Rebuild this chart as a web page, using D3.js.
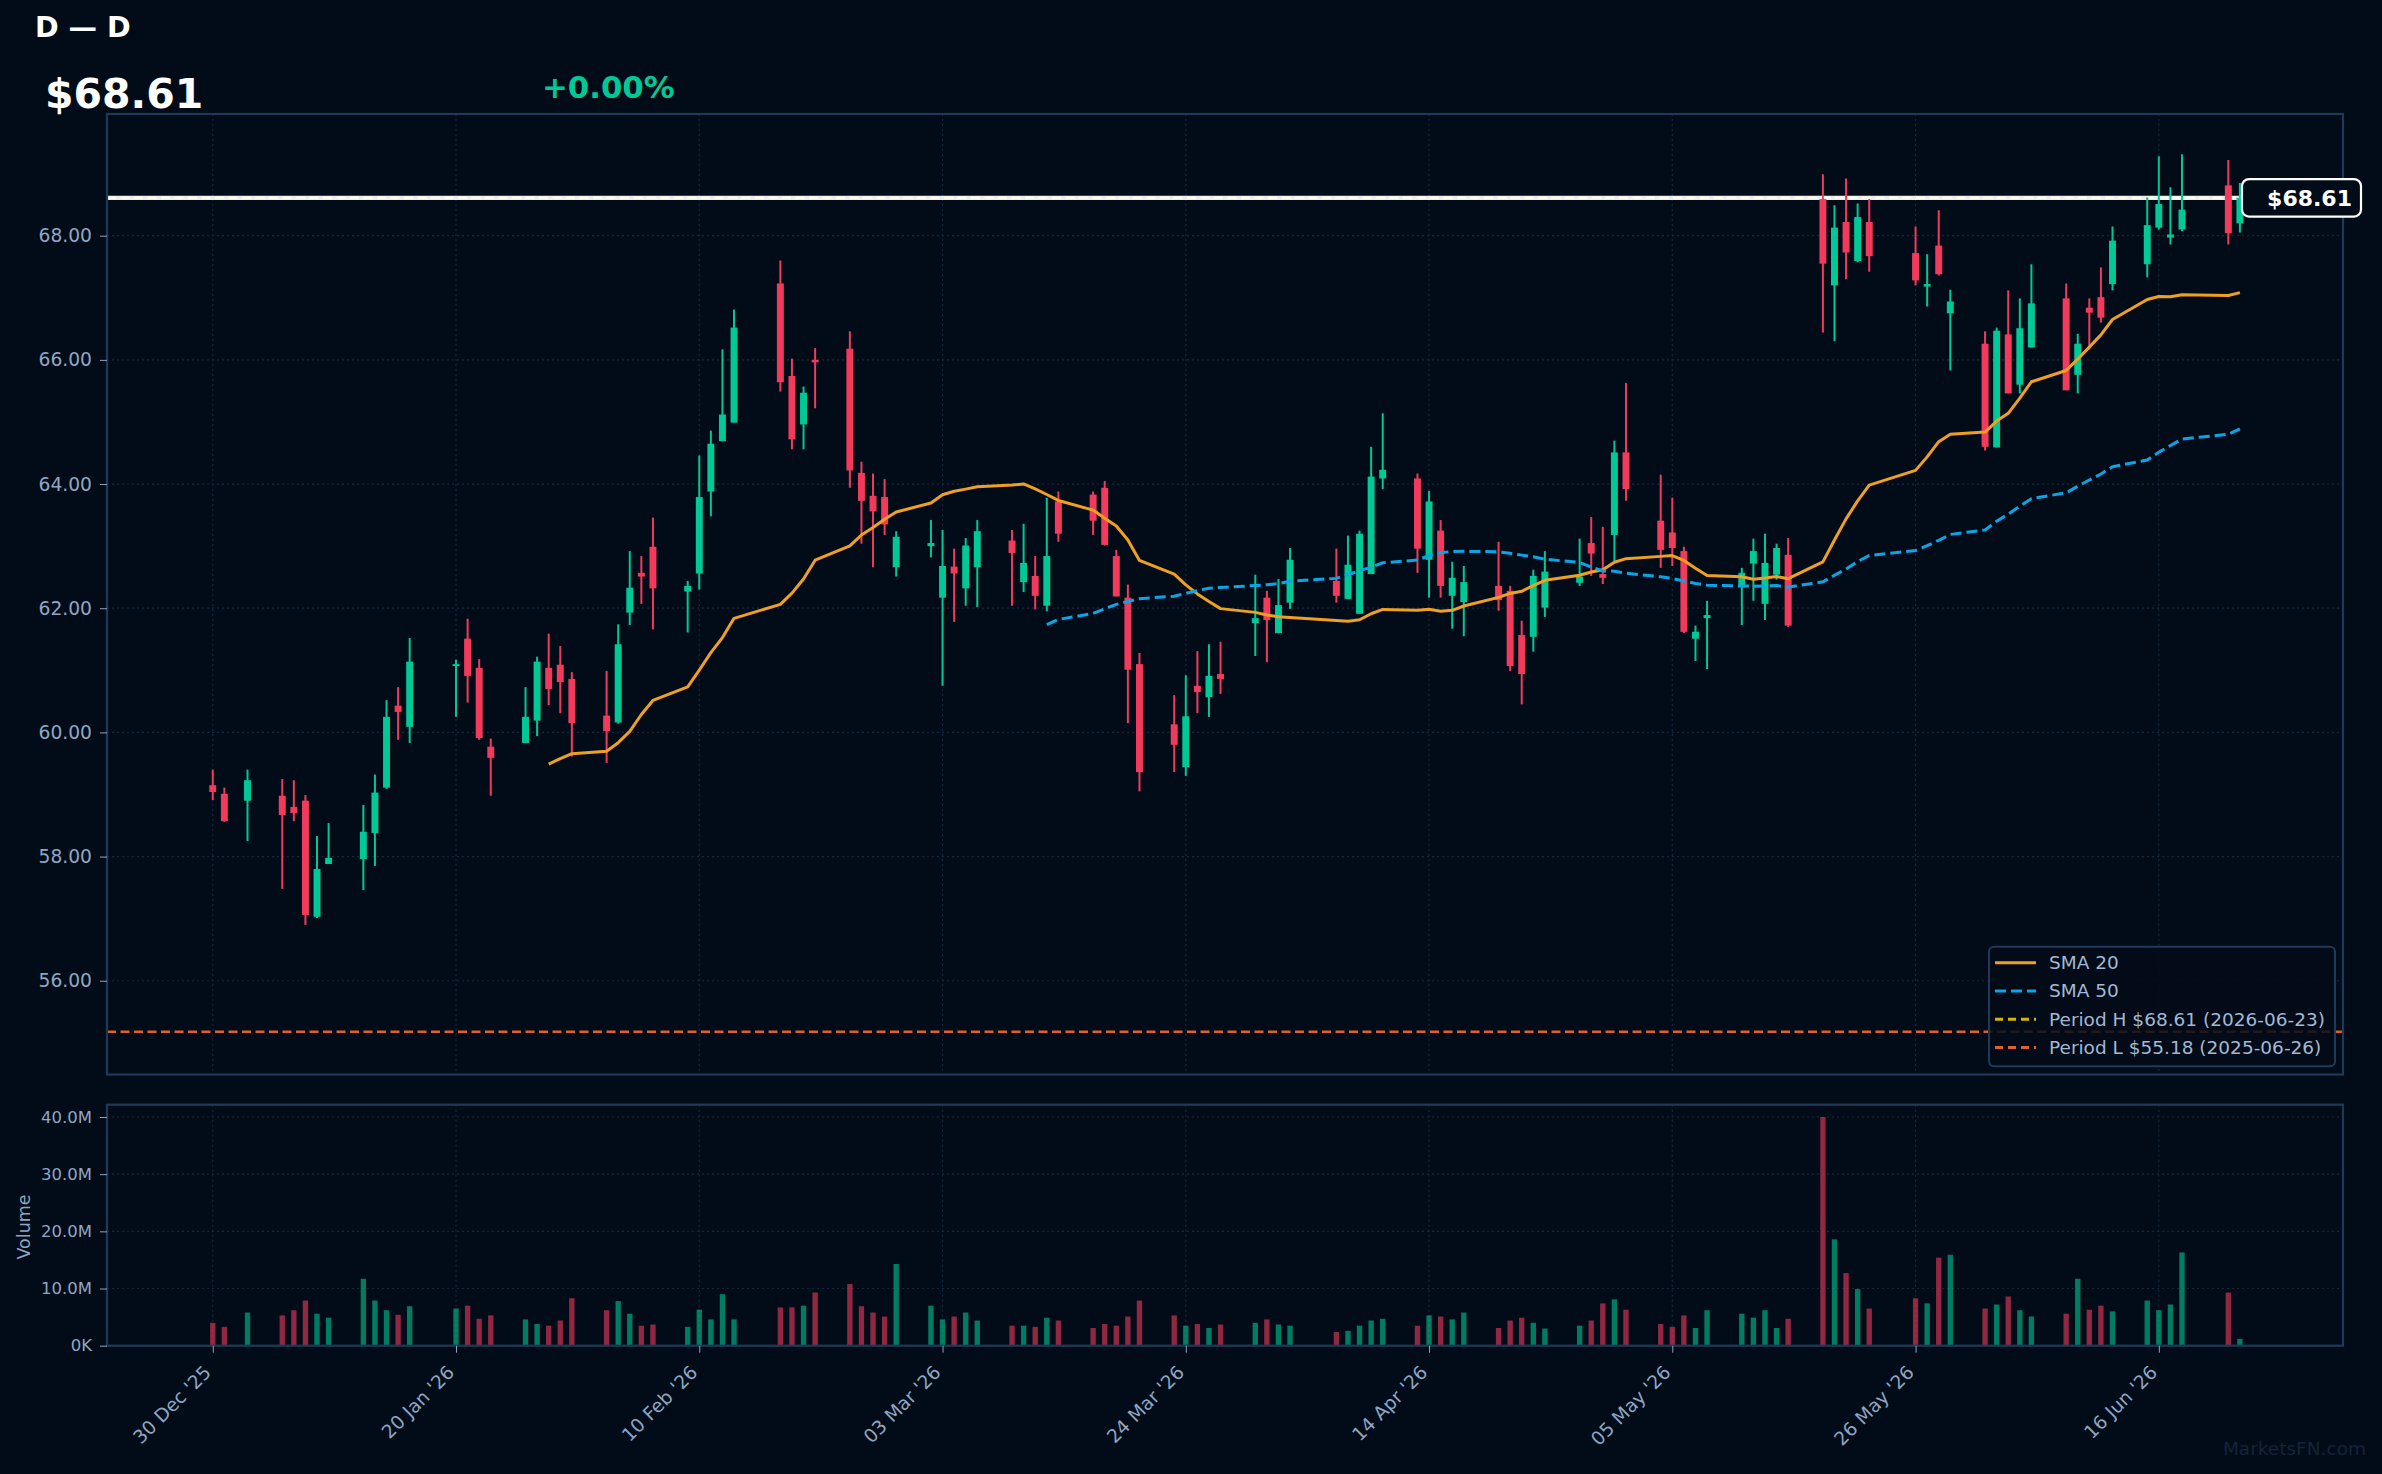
<!DOCTYPE html>
<html><head><meta charset="utf-8">
<script src="https://cdn.jsdelivr.net/npm/d3@7"></script>
<style>html,body{margin:0;padding:0;background:#020c18;overflow:hidden;} svg{display:block;font-family:"DejaVu Sans",sans-serif;}</style>
</head><body><svg id="c" width="2382" height="1474"></svg>
<script>
// ---------------- DATA ----------------
const dates = ["2025-12-30","2025-12-31","2026-01-02","2026-01-05","2026-01-06","2026-01-07","2026-01-08","2026-01-09","2026-01-12","2026-01-13","2026-01-14","2026-01-15","2026-01-16","2026-01-20","2026-01-21","2026-01-22","2026-01-23","2026-01-26","2026-01-27","2026-01-28","2026-01-29","2026-01-30",
"2026-02-02","2026-02-03","2026-02-04","2026-02-05","2026-02-06","2026-02-09","2026-02-10","2026-02-11","2026-02-12","2026-02-13","2026-02-17","2026-02-18","2026-02-19","2026-02-20","2026-02-23","2026-02-24","2026-02-25","2026-02-26","2026-02-27",
"2026-03-02","2026-03-03","2026-03-04","2026-03-05","2026-03-06","2026-03-09","2026-03-10","2026-03-11","2026-03-12","2026-03-13","2026-03-16","2026-03-17","2026-03-18","2026-03-19","2026-03-20","2026-03-23","2026-03-24","2026-03-25","2026-03-26","2026-03-27","2026-03-30","2026-03-31",
"2026-04-01","2026-04-02","2026-04-06","2026-04-07","2026-04-08","2026-04-09","2026-04-10","2026-04-13","2026-04-14","2026-04-15","2026-04-16","2026-04-17","2026-04-20","2026-04-21","2026-04-22","2026-04-23","2026-04-24","2026-04-27","2026-04-28","2026-04-29","2026-04-30",
"2026-05-01","2026-05-04","2026-05-05","2026-05-06","2026-05-07","2026-05-08","2026-05-11","2026-05-12","2026-05-13","2026-05-14","2026-05-15","2026-05-18","2026-05-19","2026-05-20","2026-05-21","2026-05-22","2026-05-26","2026-05-27","2026-05-28","2026-05-29",
"2026-06-01","2026-06-02","2026-06-03","2026-06-04","2026-06-05","2026-06-08","2026-06-09","2026-06-10","2026-06-11","2026-06-12","2026-06-15","2026-06-16","2026-06-17","2026-06-18","2026-06-22","2026-06-23"];

const open = [59.15,59.01,58.90,58.98,58.80,58.90,57.03,57.88,57.96,58.38,59.11,60.43,60.09,61.08,61.51,61.04,59.77,59.83,60.19,61.04,61.09,60.86,
60.27,60.16,61.93,62.57,62.99,62.27,62.56,63.88,64.69,64.99,67.23,65.74,64.96,66.00,66.18,64.18,63.81,63.79,62.66,
63.00,62.17,62.67,62.32,62.66,63.09,62.42,62.52,62.04,63.72,63.83,63.94,62.84,62.17,61.10,60.13,59.44,60.75,60.57,60.94,61.76,62.17,
61.60,62.09,62.44,62.15,61.91,62.55,64.09,64.09,62.78,63.25,62.20,62.10,62.36,62.28,61.57,61.54,62.01,62.41,63.05,62.55,63.18,
64.51,63.41,63.22,62.92,61.51,61.84,62.34,62.72,62.07,62.54,62.86,68.59,67.20,68.22,67.59,68.22,67.72,67.18,67.84,66.75,
66.26,64.59,66.41,65.60,66.20,66.99,65.76,66.84,67.01,67.22,67.54,68.13,67.97,68.10,68.81,68.20];

const high = [59.40,59.11,59.40,59.25,59.23,58.99,58.33,58.54,58.83,59.32,60.52,60.73,61.52,61.17,61.83,61.18,59.90,60.73,61.22,61.59,61.39,60.97,
60.99,61.74,62.92,62.84,63.46,62.44,64.46,64.86,66.17,66.81,67.60,66.02,65.57,66.19,66.46,64.36,64.17,64.08,63.24,
63.42,63.26,62.96,63.13,63.42,63.26,63.36,62.84,63.78,63.88,63.88,64.05,62.94,62.38,61.28,60.60,60.92,61.31,61.42,61.46,62.54,62.28,
62.47,62.97,62.96,63.17,63.25,64.60,65.14,64.17,63.89,63.42,62.75,62.68,63.07,62.36,61.80,62.62,62.92,63.12,63.47,63.31,64.70,
65.63,64.15,63.78,62.99,61.72,62.12,62.65,63.12,63.20,63.04,63.13,68.99,68.49,68.92,68.52,68.59,68.15,67.70,68.41,67.13,
66.46,66.52,67.12,66.99,67.54,67.23,66.42,66.99,67.49,68.15,68.62,69.28,68.78,69.31,69.22,68.85];

const low = [58.91,58.56,58.25,57.48,58.57,56.90,57.01,57.88,57.46,57.85,59.09,59.88,59.83,60.25,60.48,59.88,58.98,59.83,59.94,60.44,60.31,59.61,
59.51,60.14,61.73,62.07,61.66,61.61,62.30,63.48,64.69,64.99,65.49,64.56,64.56,65.22,63.94,63.04,62.66,63.18,62.51,
62.82,60.75,61.78,62.04,62.02,62.04,62.26,61.98,61.95,63.07,63.18,63.01,62.19,60.15,59.05,59.36,59.30,60.31,60.25,60.62,61.23,61.13,
61.60,61.99,62.09,62.15,61.91,62.55,63.92,62.57,62.17,62.17,61.67,61.55,61.96,60.99,60.45,61.30,61.86,62.36,62.52,62.39,62.76,
63.73,62.65,62.68,61.60,61.15,61.02,61.73,62.12,61.81,62.46,61.70,66.44,66.30,67.30,67.57,67.42,67.20,66.86,67.36,65.83,
64.54,64.59,65.46,65.46,66.20,65.51,65.46,66.17,66.60,67.12,67.33,68.10,67.86,68.07,67.86,68.05];

const close = [59.04,58.57,59.23,58.67,58.70,57.06,57.80,57.98,58.40,59.03,60.25,60.33,61.14,61.10,60.91,59.91,59.59,60.25,61.14,60.70,60.81,60.15,
60.02,61.42,62.33,62.51,62.32,62.36,63.79,64.65,65.12,66.52,65.64,64.72,65.47,65.96,64.22,63.73,63.56,63.35,63.15,
63.05,62.68,62.56,63.01,63.24,62.89,62.73,62.20,62.84,63.20,63.41,63.02,62.19,61.01,59.36,59.80,60.26,60.65,60.91,60.86,61.84,61.81,
62.05,62.78,62.20,62.70,63.20,64.12,64.23,62.96,63.72,62.36,62.49,62.42,62.13,61.07,60.94,62.52,62.59,62.51,62.88,62.49,64.51,
63.92,62.94,62.97,61.62,61.62,61.89,62.57,62.92,62.73,62.97,61.72,67.55,68.13,67.73,68.30,67.67,67.28,67.22,67.38,66.94,
64.60,66.47,65.46,66.51,66.91,65.51,66.26,66.76,66.68,67.92,68.17,68.51,68.02,68.42,68.04,68.61];

// volume in millions of shares
const volume = [4.0,3.3,5.8,5.3,6.2,7.9,5.6,4.9,11.7,7.9,6.2,5.4,6.9,6.5,7.0,4.7,5.3,4.6,3.8,3.5,4.4,8.3,
6.2,7.8,5.6,3.5,3.7,3.3,6.3,4.6,9.0,4.6,6.7,6.7,7.0,9.3,10.8,6.9,5.8,5.1,14.3,
7.0,4.6,5.1,5.8,4.4,3.5,3.5,3.3,4.9,4.4,3.1,3.8,3.5,5.1,7.9,5.3,3.5,3.8,3.1,3.7,4.0,4.6,
3.7,3.5,2.4,2.6,3.5,4.4,4.7,3.5,5.3,5.1,4.6,5.8,3.1,4.4,4.9,4.0,3.0,3.5,4.4,7.4,8.1,
6.3,3.8,3.3,5.3,3.1,6.2,5.6,4.9,6.2,3.1,4.7,40.0,18.6,12.7,9.9,6.5,8.3,7.4,15.4,15.9,
6.5,7.2,8.6,6.2,5.1,5.6,11.7,6.3,7.0,6.0,7.9,6.2,7.2,16.3,9.3,1.2];

const xTickDates  = ["2025-12-30","2026-01-20","2026-02-10","2026-03-03","2026-03-24","2026-04-14","2026-05-05","2026-05-26","2026-06-16"];
const xTickLabels = ["30 Dec '25","20 Jan '26","10 Feb '26","03 Mar '26","24 Mar '26","14 Apr '26","05 May '26","26 May '26","16 Jun '26"];
const priceTicks = [56,58,60,62,64,66,68];
const volTicks = [0,10,20,30,40];
const volTickLabels = ["0K","10.0M","20.0M","30.0M","40.0M"];
const lastPrice = 68.61;
const periodHigh = 68.61;
const periodLow = 55.18;
const legendLabels = ["SMA 20","SMA 50","Period H $68.61 (2026-06-23)","Period L $55.18 (2025-06-26)"];

// ---------------- STYLE / LAYOUT ----------------
const BG = "#020c18", UP = "#00c896", DN = "#f23b5c", BORDER = "#1f3a58", GRID = "#16283c";
const TICK = "#8fa6c3", LEG = "#a3b8d2";
const C_SMA20 = "#f0a020", C_SMA50 = "#0aa5e6", C_PH = "#d4b800", C_PL = "#e05f2d";
const M = {l:107, r:2343, t:114, b:1074.5}, V = {t:1104.7, b:1345.7};

const parse = d3.utcParse("%Y-%m-%d");
const DAY = 864e5;
const data = dates.map((d,i)=>({date:parse(d),o:open[i],h:high[i],l:low[i],c:close[i],v:volume[i]}));
const t0 = data[0].date, t1 = data[data.length-1].date;

const x = d3.scaleUtc().domain([new Date(+t0 - 9.13*DAY), new Date(+t1 + 8.9*DAY)]).range([M.l, M.r]);
const y = d3.scaleLinear().domain([54.49, 69.96]).range([M.b, M.t]);
const yv = d3.scaleLinear().domain([0, 42.15]).range([V.b, V.t]);

function sma(n){ return data.map((d,i)=> i<n-1 ? null : d3.mean(data.slice(i-n+1,i+1), e=>e.c)); }
const sma20 = sma(20), sma50 = sma(50);

const svg = d3.select("#c");
svg.append("rect").attr("width",2382).attr("height",1474).attr("fill",BG);

// title
svg.append("text").attr("x",35).attr("y",37).attr("fill","#ffffff").attr("font-size",28.5).attr("font-weight","bold").text("D — D");
svg.append("text").attr("x",45).attr("y",108).attr("fill","#ffffff").attr("font-size",41).attr("font-weight","bold").text("$" + lastPrice.toFixed(2));
svg.append("text").attr("x",542).attr("y",98).attr("fill",UP).attr("font-size",30.8).attr("font-weight","bold").text("+0.00%");

// clip paths
svg.append("clipPath").attr("id","cm").append("rect").attr("x",M.l).attr("y",M.t).attr("width",M.r-M.l).attr("height",M.b-M.t);
const gm = svg.append("g");
const gmc = gm.append("g").attr("clip-path","url(#cm)");

// grid main
gmc.selectAll(".gy").data(priceTicks).join("line").attr("x1",M.l).attr("x2",M.r).attr("y1",d=>y(d)).attr("y2",d=>y(d))
  .attr("stroke",GRID).attr("stroke-width",1.2).attr("stroke-dasharray","2,3");
gmc.selectAll(".gx").data(xTickDates).join("line").attr("x1",d=>x(parse(d))).attr("x2",d=>x(parse(d))).attr("y1",M.t).attr("y2",M.b)
  .attr("stroke",GRID).attr("stroke-width",1.2).attr("stroke-dasharray","2,3");

// reference lines
gmc.append("line").attr("x1",M.l).attr("x2",M.r).attr("y1",y(periodLow)).attr("y2",y(periodLow))
  .attr("stroke",C_PL).attr("stroke-width",2.5).attr("stroke-dasharray","9,4.5");
gmc.append("line").attr("x1",M.l).attr("x2",M.r).attr("y1",y(periodHigh)).attr("y2",y(periodHigh))
  .attr("stroke",C_PH).attr("stroke-width",2.5).attr("stroke-dasharray","9,4.5");
gmc.append("line").attr("x1",M.l).attr("x2",M.r).attr("y1",y(lastPrice)).attr("y2",y(lastPrice))
  .attr("stroke","#ffffff").attr("stroke-opacity",0.93).attr("stroke-width",4.2);

// candles
const bw = x(new Date(+t0 + 0.3*DAY)) - x(new Date(+t0 - 0.3*DAY));
const cg = gmc.append("g");
cg.selectAll(".w").data(data).join("line").attr("x1",d=>x(d.date)).attr("x2",d=>x(d.date)).attr("y1",d=>y(d.h)).attr("y2",d=>y(d.l))
  .attr("stroke",d=>d.c>=d.o?UP:DN).attr("stroke-width",2);
cg.selectAll(".b").data(data).join("rect").attr("x",d=>x(d.date)-bw/2).attr("width",bw)
  .attr("y",d=>y(Math.max(d.o,d.c))).attr("height",d=>Math.max(2,Math.abs(y(d.o)-y(d.c))))
  .attr("fill",d=>d.c>=d.o?UP:DN);

// SMA lines
const line = d3.line().defined(d=>d[1]!=null).x(d=>x(d[0])).y(d=>y(d[1]));
gmc.append("path").attr("d",line(data.map((d,i)=>[d.date,sma20[i]]))).attr("fill","none").attr("stroke",C_SMA20).attr("stroke-width",3).attr("stroke-linejoin","round");
gmc.append("path").attr("d",line(data.map((d,i)=>[d.date,sma50[i]]))).attr("fill","none").attr("stroke",C_SMA50).attr("stroke-width",3).attr("stroke-dasharray","11,5");

// main border
gm.append("rect").attr("x",M.l).attr("y",M.t).attr("width",M.r-M.l).attr("height",M.b-M.t).attr("fill","none").attr("stroke",BORDER).attr("stroke-width",2.2);

// y axis main
const ya = gm.append("g").attr("transform",`translate(${M.l},0)`).call(d3.axisLeft(y).tickValues(priceTicks).tickFormat(d=>d.toFixed(2)).tickSize(7).tickPadding(8));
ya.select(".domain").remove();
ya.selectAll("line").attr("stroke",TICK);
ya.selectAll("text").attr("fill",TICK).attr("font-size",18.7).attr("font-family","DejaVu Sans");

// last price label
const lbW = 119, lbH = 37.5, lbX = 2242, lbY = y(lastPrice) - lbH/2;
gm.append("rect").attr("x",lbX).attr("y",lbY).attr("width",lbW).attr("height",lbH).attr("rx",7).attr("fill",BG).attr("stroke","#ffffff").attr("stroke-width",2.2);
gm.append("text").attr("x",lbX+lbW-9).attr("y",y(lastPrice)).attr("dy","0.36em").attr("text-anchor","end").attr("fill","#ffffff")
  .attr("font-size",22).attr("font-weight","bold").text("$" + lastPrice.toFixed(2));

// legend
const lg = gm.append("g");
lg.append("rect").attr("x",1989).attr("y",946.7).attr("width",346).attr("height",119.5).attr("rx",5)
  .attr("fill",BG).attr("fill-opacity",0.85).attr("stroke",BORDER).attr("stroke-width",2);
const legStyles = [{c:C_SMA20,d:null},{c:C_SMA50,d:"11,5"},{c:C_PH,d:"8,5"},{c:C_PL,d:"8,5"}];
legendLabels.forEach((t,i)=>{
  const yy = 962.7 + i*28.25;
  lg.append("line").attr("x1",1995).attr("x2",2036).attr("y1",yy).attr("y2",yy).attr("stroke",legStyles[i].c).attr("stroke-width",3)
    .attr("stroke-dasharray",legStyles[i].d);
  lg.append("text").attr("x",2049).attr("y",yy).attr("dy","0.35em").attr("fill",LEG).attr("font-size",18.5).text(t);
});

// ---------------- VOLUME ----------------
const gv = svg.append("g");
gv.selectAll(".vgy").data(volTicks).join("line").attr("x1",M.l).attr("x2",M.r).attr("y1",d=>yv(d)).attr("y2",d=>yv(d))
  .attr("stroke",GRID).attr("stroke-width",1.2).attr("stroke-dasharray","2,3");
gv.selectAll(".vgx").data(xTickDates).join("line").attr("x1",d=>x(parse(d))).attr("x2",d=>x(parse(d))).attr("y1",V.t).attr("y2",V.b)
  .attr("stroke",GRID).attr("stroke-width",1.2).attr("stroke-dasharray","2,3");
const vw = x(new Date(+t0 + 0.23*DAY)) - x(new Date(+t0 - 0.23*DAY));
gv.selectAll(".vb").data(data).join("rect").attr("x",d=>x(d.date)-vw/2).attr("width",vw)
  .attr("y",d=>yv(d.v)).attr("height",d=>yv(0)-yv(d.v))
  .attr("fill",d=>d.c>=d.o?UP:DN).attr("fill-opacity",0.6);
gv.append("rect").attr("x",M.l).attr("y",V.t).attr("width",M.r-M.l).attr("height",V.b-V.t).attr("fill","none").attr("stroke",BORDER).attr("stroke-width",2.2);

const va = gv.append("g").attr("transform",`translate(${M.l},0)`).call(d3.axisLeft(yv).tickValues(volTicks).tickFormat((d,i)=>volTickLabels[i]).tickSize(7).tickPadding(8));
va.select(".domain").remove();
va.selectAll("line").attr("stroke",TICK);
va.selectAll("text").attr("fill",TICK).attr("font-size",16.5).attr("font-family","DejaVu Sans");

gv.append("text").attr("transform",`translate(30,1227) rotate(-90)`).attr("text-anchor","middle").attr("fill",TICK).attr("font-size",17.5).text("Volume");

// x axis
const xa = gv.append("g").attr("transform",`translate(0,${V.b})`).call(d3.axisBottom(x).tickValues(xTickDates.map(parse)).tickFormat((d,i)=>xTickLabels[i]).tickSize(7).tickPadding(4));
xa.select(".domain").remove();
xa.selectAll("line").attr("stroke",TICK);
xa.selectAll("text").attr("fill",TICK).attr("font-size",18.7).attr("font-family","DejaVu Sans")
  .attr("text-anchor","end").attr("dy",null).attr("y",0)
  .attr("transform","translate(-1,28) rotate(-45)");

// watermark
svg.append("text").attr("x",2366).attr("y",1455).attr("text-anchor","end").attr("fill","#162338").attr("font-size",18.5).text("MarketsFN.com");
</script></body></html>
